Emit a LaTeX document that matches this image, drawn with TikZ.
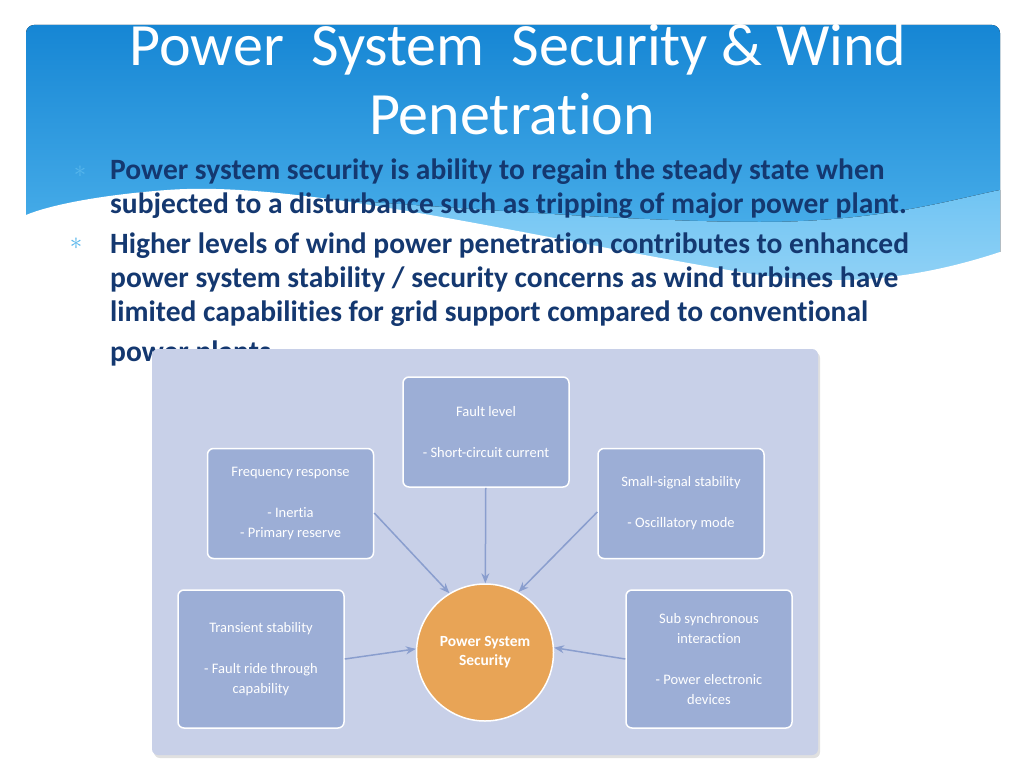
\documentclass[tikz,border=0pt]{standalone}
\usepackage{fontspec}
\setmainfont{Carlito}[Ligatures=NoCommon]
\usetikzlibrary{arrows.meta,shapes.geometric}

\definecolor{hdtop}{RGB}{22,134,212}
\definecolor{hdbot}{RGB}{88,186,240}
\definecolor{bandtop}{RGB}{112,196,243}
\definecolor{bandbot}{RGB}{150,212,246}
\definecolor{navy}{RGB}{20,56,112}
\definecolor{starblue}{RGB}{86,182,236}
\definecolor{panelc}{RGB}{200,208,232}
\definecolor{boxc}{RGB}{156,174,214}
\definecolor{corec}{RGB}{232,164,86}
\definecolor{linkc}{RGB}{138,158,206}

\tikzset{
  box/.style={draw=white, line width=1.5pt, fill=boxc, rounded corners=6pt,
    minimum width=166pt, minimum height=110pt, inner sep=0pt,
    text=white, align=center, font=\fontsize{14.5}{20.4}\selectfont},
  tallbox/.style={box, minimum height=138pt},
  link/.style={draw=linkc, line width=1.5pt, -{Stealth[length=10pt,width=8pt]}},
  bul/.style={anchor=base west, inner sep=0pt, text=navy,
    font=\fontsize{29.5}{30}\bfseries\selectfont},
  star/.style={inner sep=0pt, text=starblue, font=\fontsize{26}{26}\selectfont}
}

\begin{document}
\begin{tikzpicture}[x=1pt,y=-1pt]
\useasboundingbox (0,0) rectangle (1024,768);
\fill[white] (0,0) rectangle (1024,768);

%header
\fill[top color=hdtop, bottom color=hdbot, rounded corners=8pt]
  (26,25) rectangle (1000,300);
\fill[top color=bandtop, bottom color=bandbot]
  (167,190) .. controls (350,198) and (600,222) .. (760,222)
  .. controls (880,222) and (950,200) .. (1000,190) -- (1000,300) -- (167,300) -- cycle;
\fill[white]
  (26,215) .. controls (50,205) and (100,195) .. (167,190)
  .. controls (300,180) and (520,235) .. (740,272)
  .. controls (820,285) and (900,285) .. (1000,252)
  -- (1004,252) -- (1004,305) -- (22,305) -- (22,215) -- cycle;

%title
\node[anchor=base, inner sep=0pt, text=white, font=\fontsize{60}{60}\selectfont]
  (title1) at (518,66) {Power\ \ System\ \ Security \& Wind};
\node[anchor=base, inner sep=0pt, text=white, font=\fontsize{60}{60}\selectfont]
  (title2) at (512,134) {Penetration};

%bullets
\node[star] (s1) at (80,172) {$\ast$};
\node[star] (s2) at (76,244) {$\ast$};
\node[bul] (l1) at (110,179) {Power system security is ability to regain the steady state when};
\node[bul] (l2) at (110,213) {subjected to a disturbance such as tripping of major power plant.};
\node[bul] (l3) at (110,253) {Higher levels of wind power penetration contributes to enhanced};
\node[bul] (l4) at (110,287) {power system stability / security concerns as wind turbines have};
\node[bul] (l5) at (110,321) {limited capabilities for grid support compared to conventional};
\node[bul] (l6) at (110,361) {power plants.};

%panel
\fill[black!12, rounded corners=6pt] (154,352) rectangle (820,758);
\fill[panelc, rounded corners=6pt] (152,349) rectangle (818,755);

%boxes
\node[box] (fault) at (486,432) {Fault level\\[20.4pt]- Short-circuit current};
\node[box] (freq) at (290.5,503.5) {Frequency response\\[20.4pt]- Inertia\\- Primary reserve};
\node[box] (small) at (681,503.5) {Small-signal stability\\[20.4pt]- Oscillatory mode};
\node[tallbox] (trans) at (261,659) {Transient stability\\[20.4pt]- Fault ride through\\capability};
\node[tallbox] (sub) at (709,659) {Sub synchronous\\interaction\\[20.4pt]- Power electronic\\devices};

%centre
\node[circle, draw=white, line width=1.5pt, fill=corec, minimum size=137pt, inner sep=0pt,
  text=white, align=center, font=\fontsize{15.5}{19}\bfseries\selectfont]
  (core) at (485,652.5) {Power System\\Security};

%links
\draw[link] (fault) -- (core);
\draw[link] ([yshift=-9.5pt]freq.east) -- (core.121);
\draw[link] ([yshift=-8.5pt]small.west) -- (core.61);
\draw[link] (trans.east) -- (core.177);
\draw[link] (sub.west) -- (core.4);
\end{tikzpicture}
\end{document}
